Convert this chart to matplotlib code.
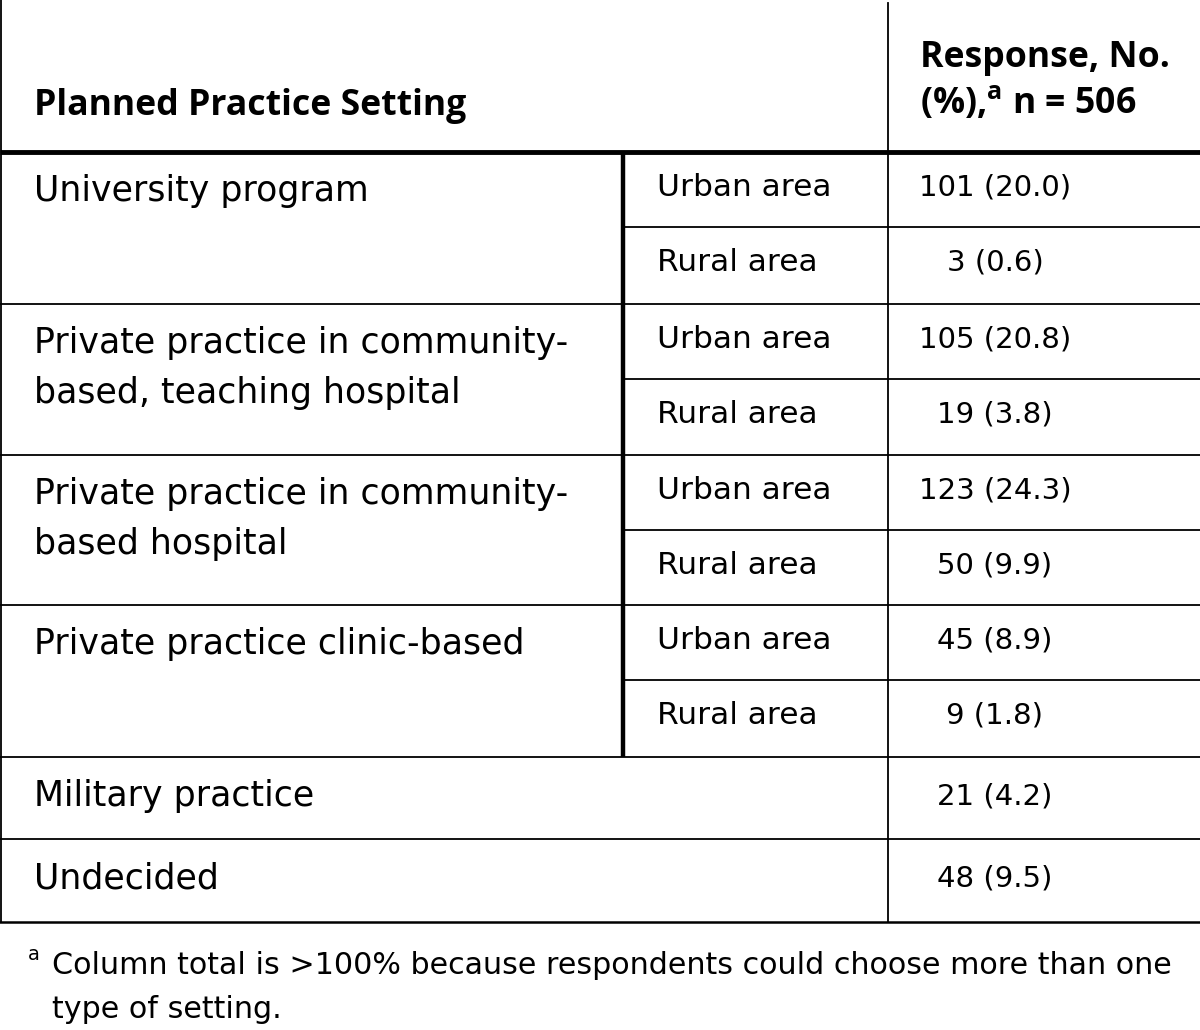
import matplotlib
matplotlib.use("Agg")
import matplotlib.pyplot as plt

# ---- data ----
header_left = "Planned Practice Setting"
header_right = ["Response, No.", r"(%),$^{\mathregular{a}}$ n = 506"]
groups = ["University program",
          "Private practice in community-\nbased, teaching hospital",
          "Private practice in community-\nbased hospital",
          "Private practice clinic-based"]
areas = ["Urban area", "Rural area"]
group_counts = [[101, 3], [105, 19], [123, 50], [45, 9]]
group_pcts = [[20.0, 0.6], [20.8, 3.8], [24.3, 9.9], [8.9, 1.8]]
single_rows = ["Military practice", "Undecided"]
single_counts = [21, 48]
single_pcts = [4.2, 9.5]
footnote = ["Column total is >100% because respondents could choose more than one",
            "type of setting."]

W, H = 1200, 1030
fig = plt.figure(figsize=(W / 100, H / 100), dpi=100)
ax = fig.add_axes([0, 0, 1, 1])
ax.set_xlim(0, W)
ax.set_ylim(H, 0)
ax.axis("off")

HFONT = "Open Sans"
FONT = "DejaVu Sans"
BODY = 25
AREA = 22.5
NUM = 21
HEAD = 25.7
FOOT = 21.7
lc = "black"

# geometry
x_left, x_mid, x_num, x_right = 1, 623, 888, 1200
y_head = 152
row_h = 75.3
group_top = [152, 304, 455, 605]
y_single = [757, 839]
y_bottom = 922

# structural lines
ax.plot([x_left, x_left], [0, y_bottom], color=lc, lw=1.3)
ax.plot([x_num, x_num], [3, y_bottom], color=lc, lw=1.3)
ax.plot([0, W], [y_head, y_head], color=lc, lw=3.5, solid_capstyle="butt")
ax.plot([x_mid, x_mid], [y_head, y_single[0]], color=lc, lw=3.2, solid_capstyle="butt")
for gt in group_top[1:] + y_single:
    ax.plot([0, W], [gt, gt], color=lc, lw=1.3)
for gt in group_top:
    ax.plot([x_mid, W], [gt + row_h, gt + row_h], color=lc, lw=1.3)
ax.plot([0, W], [y_bottom, y_bottom], color=lc, lw=1.8)

# header
ax.text(34, 106, header_left, fontsize=HEAD, fontweight="bold", family=HFONT,
        va="center", ha="left")
ax.text(920, 58, header_right[0], fontsize=HEAD, fontweight="bold", family=HFONT,
        va="center", ha="left")
ax.text(920, 104, header_right[1], fontsize=HEAD, fontweight="bold", family=HFONT,
        va="center", ha="left")

# groups
for gi, g in enumerate(groups):
    top = group_top[gi]
    for li, line in enumerate(g.split("\n")):
        ax.text(34, top + 39 + 50 * li, line, fontsize=BODY, family=FONT,
                va="center", ha="left")
    for ai, a in enumerate(areas):
        yc = top + row_h * ai + row_h / 2 - 2
        ax.text(657, yc, a, fontsize=AREA, family=FONT, va="center", ha="left")
        ax.text(995, yc, f"{group_counts[gi][ai]} ({group_pcts[gi][ai]:.1f})",
                fontsize=NUM, family=FONT, va="center", ha="center")

for si, s in enumerate(single_rows):
    top = y_single[si]
    bot = y_single[si + 1] if si + 1 < len(y_single) else y_bottom
    yc = (top + bot) / 2 - 2
    ax.text(34, yc, s, fontsize=BODY, family=FONT, va="center", ha="left")
    ax.text(995, yc, f"{single_counts[si]} ({single_pcts[si]:.1f})",
            fontsize=NUM, family=FONT, va="center", ha="center")

# footnote
ax.text(28, 955, "a", fontsize=14, family=FONT, va="center", ha="left")
ax.text(52, 965, footnote[0], fontsize=FOOT, family=FONT, va="center", ha="left")
ax.text(52, 1010, footnote[1], fontsize=FOOT, family=FONT, va="center", ha="left")

fig.savefig("out.png", dpi=100, facecolor="white")
